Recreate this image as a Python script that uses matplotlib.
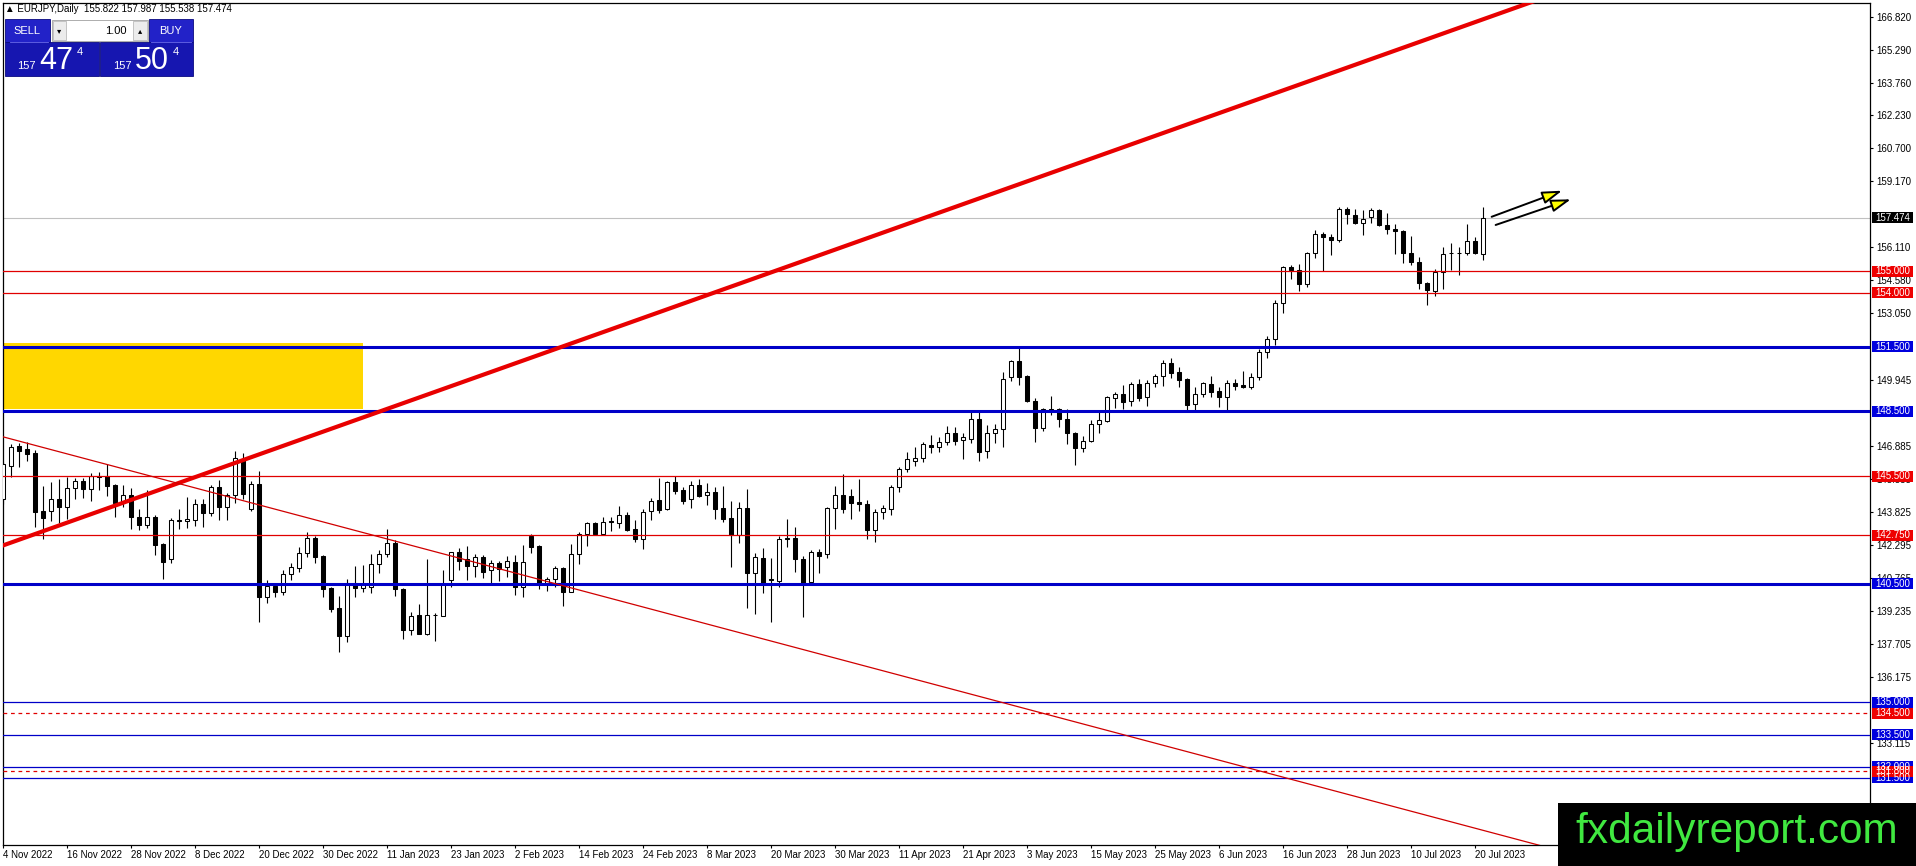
import numpy as np
import matplotlib
matplotlib.use('Agg')
import matplotlib.pyplot as plt
from matplotlib.patches import Rectangle

plt.rcParams['font.family'] = ['Liberation Sans', 'DejaVu Sans']

# ---------------- data ----------------
header_text = "\u25B2 EURJPY,Daily  155.822 157.987 155.538 157.474"

opens = [144.42, 145.96, 146.89, 146.74, 146.55, 143.86, 143.88, 144.42, 144.08, 144.94,
         145.25, 144.91, 145.50, 145.50, 145.10, 144.29, 144.63, 143.61, 143.24, 143.61,
         142.33, 141.66, 143.44, 143.40, 143.46, 144.22, 143.80, 145.01, 144.08, 144.63,
         146.30, 143.95, 145.11, 139.87, 140.40, 140.13, 140.94, 141.22, 141.91, 142.61,
         141.79, 140.29, 139.36, 138.09, 140.55, 140.29, 140.33, 141.40, 141.88, 142.38,
         140.24, 138.35, 139.05, 138.15, 139.05, 139.02, 140.67, 141.96, 141.63, 141.34,
         141.73, 141.14, 141.45, 141.26, 141.52, 140.33, 142.72, 142.25, 140.55, 140.70,
         141.23, 140.13, 141.87, 142.79, 143.30, 142.81, 143.41, 143.33, 143.67, 143.03,
         142.59, 143.86, 144.37, 143.95, 145.21, 144.83, 144.42, 145.07, 144.60, 144.74,
         144.00, 143.54, 142.76, 144.00, 140.98, 141.72, 140.70, 140.64, 142.61, 142.61,
         141.63, 140.60, 141.96, 141.86, 144.00, 144.60, 144.57, 144.29, 144.20, 142.99,
         143.81, 143.95, 144.97, 145.81, 146.21, 146.36, 146.94, 146.83, 147.06, 147.48,
         147.17, 147.20, 148.17, 146.66, 147.48, 147.66, 150.11, 150.83, 150.14, 148.98,
         147.74, 148.59, 148.59, 148.13, 147.51, 146.78, 147.14, 147.93, 148.07, 149.13,
         149.29, 148.99, 149.75, 149.15, 149.84, 150.12, 150.73, 150.32, 150.02, 148.82,
         149.29, 149.75, 149.44, 149.18, 149.84, 149.72, 149.64, 150.08, 151.27, 151.85,
         153.53, 155.20, 155.05, 154.40, 155.85, 156.73, 156.59, 156.45, 157.89, 157.60,
         157.24, 157.52, 157.85, 157.15, 156.98, 156.89, 155.85, 155.42, 154.46, 154.09,
         154.97, 155.85, 155.85, 155.84, 156.41, 155.822]
highs = [146.15, 146.97, 147.02, 147.08, 146.71, 145.04, 145.22, 145.35, 145.47, 145.42,
         145.42, 145.65, 145.69, 146.04, 145.11, 145.10, 144.96, 143.98, 144.83, 143.67,
         142.41, 143.57, 143.95, 144.54, 144.42, 144.42, 145.07, 145.30, 144.70, 146.66,
         146.55, 145.27, 145.75, 140.67, 140.55, 141.14, 141.48, 142.19, 142.89, 142.70,
         141.83, 140.35, 139.93, 140.70, 141.32, 141.37, 141.88, 142.07, 143.03, 142.53,
         140.29, 139.20, 139.56, 141.65, 139.13, 141.14, 141.99, 142.14, 142.25, 141.87,
         141.83, 141.60, 141.57, 141.79, 141.83, 142.30, 142.80, 142.30, 140.80, 141.32,
         141.28, 142.34, 142.90, 143.37, 143.37, 143.58, 143.58, 144.11, 143.83, 143.46,
         143.95, 144.46, 145.39, 145.25, 145.50, 145.01, 145.28, 145.35, 145.16, 145.01,
         145.05, 144.34, 144.31, 144.88, 141.91, 142.14, 141.68, 142.71, 143.53, 143.15,
         141.79, 142.06, 142.10, 144.05, 145.03, 145.59, 144.88, 145.36, 144.38, 143.95,
         144.15, 145.08, 145.93, 146.63, 146.83, 147.09, 147.40, 147.32, 147.82, 147.76,
         147.51, 148.48, 148.56, 147.87, 147.90, 150.34, 150.88, 151.50, 150.19, 149.10,
         148.64, 149.23, 148.64, 148.61, 147.56, 147.37, 148.10, 148.48, 149.21, 149.41,
         149.72, 149.88, 150.00, 149.95, 150.23, 150.88, 150.99, 150.56, 150.06, 149.64,
         149.88, 150.15, 149.64, 149.95, 150.00, 150.37, 150.26, 151.40, 152.00, 153.65,
         155.25, 155.31, 155.34, 155.90, 156.93, 156.83, 156.75, 157.99, 157.99, 157.88,
         157.83, 157.94, 157.91, 157.71, 157.21, 156.93, 156.64, 155.67, 154.50, 155.12,
         156.13, 156.31, 156.13, 157.20, 156.59, 157.987]
lows = [144.19, 145.47, 145.93, 146.20, 143.15, 142.56, 143.41, 143.30, 143.52, 144.42,
        144.48, 144.32, 144.85, 144.57, 143.61, 144.08, 143.03, 142.98, 143.09, 141.85,
        140.74, 141.48, 143.06, 143.10, 143.18, 143.15, 143.64, 143.46, 143.46, 144.26,
        144.45, 143.88, 138.74, 139.59, 139.90, 139.98, 140.67, 141.06, 141.73, 141.48,
        139.90, 139.20, 137.32, 137.81, 139.90, 140.13, 140.09, 141.01, 141.73, 139.95,
        137.94, 138.12, 138.15, 138.12, 137.86, 139.02, 140.36, 141.14, 140.67, 140.80,
        140.75, 140.55, 140.64, 140.83, 139.98, 139.87, 141.91, 140.24, 140.18, 140.36,
        139.48, 140.13, 141.42, 142.25, 142.75, 142.79, 142.96, 143.07, 142.96, 142.44,
        142.10, 143.46, 143.80, 143.92, 144.66, 144.20, 144.02, 144.51, 144.15, 143.52,
        143.37, 141.29, 142.38, 139.39, 139.10, 140.05, 138.74, 140.33, 142.22, 141.06,
        138.97, 140.52, 140.98, 141.71, 143.05, 143.77, 143.52, 143.89, 142.59, 142.45,
        143.52, 143.70, 144.77, 145.70, 145.96, 146.16, 146.58, 146.61, 146.94, 146.94,
        146.30, 147.05, 146.21, 146.36, 147.05, 146.83, 149.91, 149.72, 148.95, 147.06,
        147.59, 148.33, 147.79, 146.97, 146.01, 146.60, 147.09, 147.48, 147.99, 148.67,
        148.61, 148.76, 148.98, 148.76, 149.64, 149.67, 150.03, 149.64, 148.48, 148.48,
        149.15, 149.15, 148.72, 148.48, 149.50, 149.57, 149.54, 149.95, 151.00, 151.60,
        153.07, 154.63, 154.07, 154.26, 155.62, 155.03, 155.74, 156.36, 157.20, 157.20,
        156.67, 157.24, 157.09, 156.75, 155.79, 155.39, 155.28, 154.16, 153.42, 153.86,
        154.16, 155.05, 154.85, 155.77, 155.80, 155.538]
closes = [146.04, 146.86, 146.66, 146.52, 143.83, 143.55, 144.42, 144.08, 144.96, 145.25,
          144.88, 145.50, 145.45, 145.04, 144.26, 144.63, 143.60, 143.24, 143.61, 142.30,
          141.51, 143.44, 143.40, 143.49, 144.22, 143.78, 145.01, 144.08, 144.63, 146.34,
          144.66, 145.14, 139.87, 140.40, 140.13, 140.94, 141.28, 141.91, 142.61, 141.76,
          140.24, 139.33, 138.09, 140.55, 140.29, 140.49, 141.40, 141.88, 142.38, 140.24,
          138.35, 139.02, 138.15, 139.05, 139.07, 140.49, 141.96, 141.57, 141.34, 141.73,
          141.06, 141.45, 141.17, 141.57, 140.33, 141.52, 142.22, 140.52, 140.70, 141.23,
          140.13, 141.87, 142.79, 143.30, 142.81, 143.37, 143.35, 143.67, 142.99, 142.59,
          143.83, 144.34, 143.92, 145.21, 144.82, 144.36, 145.07, 144.59, 144.74, 143.98,
          143.52, 142.76, 144.00, 140.98, 141.73, 140.52, 140.67, 142.56, 142.56, 141.63,
          140.52, 141.96, 141.80, 144.00, 144.60, 143.95, 144.26, 144.20, 142.99, 143.83,
          144.00, 144.97, 145.81, 146.27, 146.36, 146.97, 146.83, 147.06, 147.48, 147.14,
          147.32, 148.17, 146.63, 147.48, 147.66, 149.98, 150.83, 150.11, 148.98, 147.74,
          148.61, 148.55, 148.13, 147.48, 146.78, 147.14, 147.90, 148.08, 149.15, 149.29,
          148.95, 149.77, 149.13, 149.84, 150.12, 150.73, 150.29, 149.97, 148.79, 149.29,
          149.80, 149.41, 149.18, 149.84, 149.69, 149.63, 150.08, 151.27, 151.85, 153.55,
          155.20, 155.05, 154.40, 155.85, 156.73, 156.58, 156.45, 157.89, 157.66, 157.24,
          157.43, 157.85, 157.13, 156.95, 156.86, 155.84, 155.42, 154.46, 154.12, 154.97,
          155.80, 155.84, 155.84, 156.41, 155.84, 157.474]

date_labels = ['4 Nov 2022', '16 Nov 2022', '28 Nov 2022', '8 Dec 2022', '20 Dec 2022',
               '30 Dec 2022', '11 Jan 2023', '23 Jan 2023', '2 Feb 2023', '14 Feb 2023',
               '24 Feb 2023', '8 Mar 2023', '20 Mar 2023', '30 Mar 2023', '11 Apr 2023',
               '21 Apr 2023', '3 May 2023', '15 May 2023', '25 May 2023', '6 Jun 2023',
               '16 Jun 2023', '28 Jun 2023', '10 Jul 2023', '20 Jul 2023']
bars_per_label = 8

price_ticks = [166.820, 165.290, 163.760, 162.230, 160.700, 159.170, 156.110,
               154.580, 153.050, 149.945, 146.885, 145.355, 143.825,
               142.295, 140.765, 139.235, 137.705, 136.175, 133.115]

red_levels = [155.0, 154.0, 145.5, 142.75]
blue_thick_levels = [151.5, 148.5, 140.5]
blue_thin_levels = [135.0, 133.5, 132.0, 131.5]
red_dashed_levels = [134.5, 131.8]
last_price = 157.474

# labels on the price scale (drawn in this order)
level_tags = [(157.474, 'black'), (155.0, 'red'), (154.0, 'red'), (151.5, 'blue'),
              (148.5, 'blue'), (145.5, 'red'), (142.75, 'red'), (140.5, 'blue'),
              (135.0, 'blue'), (134.5, 'red'), (133.5, 'blue'), (132.0, 'blue'),
              (131.5, 'blue'), (131.8, 'red')]

zone_low, zone_high = 148.60, 151.67
zone_end_bar = 45

up_trend = [(0, 142.28), (190, 167.35)]
down_trend = [(0, 147.32), (190, 128.57)]

arrow_1 = [(186.1, 157.53), (194.9, 158.74)]
arrow_2 = [(186.6, 157.15), (196.0, 158.34)]

# ---------------- figure ----------------
W, H = 1916, 866
fig = plt.figure(figsize=(W / 100, H / 100), dpi=100)
fig.patch.set_facecolor('white')

ax_left, ax_right, ax_top, ax_bot = 2.5, 1870, 3, 845
pos = [ax_left / W, (H - ax_bot) / H, (ax_right - ax_left) / W, (ax_bot - ax_top) / H]
ax = fig.add_axes(pos)
ax.set_facecolor('white')

XMIN, XMAX = -0.06, 233.4
YMIN, YMAX = 128.38, 167.45
ax.set_xlim(XMIN, XMAX)
ax.set_ylim(YMIN, YMAX)

RED = '#e00000'
BLUE = '#0000c8'

# yellow zone
ax.add_patch(Rectangle((XMIN - 1, zone_low), zone_end_bar - XMIN + 1, zone_high - zone_low,
                       facecolor='#ffd700', edgecolor='none', zorder=1))

# candles
o = np.array(opens); h = np.array(highs); l = np.array(lows); c = np.array(closes)
x = np.arange(len(o))
ax.vlines(x, l, h, color='black', linewidth=0.8, zorder=2)
bull = c >= o
body_bottom = np.minimum(o, c)
body_h = np.maximum(np.abs(c - o), 0.025)
ax.bar(x[bull], body_h[bull], bottom=body_bottom[bull], width=0.55,
       facecolor='white', edgecolor='black', linewidth=0.75, zorder=3)
ax.bar(x[~bull], body_h[~bull], bottom=body_bottom[~bull], width=0.55,
       facecolor='black', edgecolor='black', linewidth=0.75, zorder=3)

# horizontal levels
ax.axhline(last_price, color='#c0c0c0', linewidth=0.8, zorder=1.5)
for lv in red_levels:
    ax.axhline(lv, color=RED, linewidth=0.9, zorder=4)
for lv in blue_thick_levels:
    ax.axhline(lv, color=BLUE, linewidth=2.2, zorder=4)
for lv in blue_thin_levels:
    ax.axhline(lv, color=BLUE, linewidth=0.9, zorder=4)
for lv in red_dashed_levels:
    ax.axhline(lv, color=RED, linewidth=0.9, linestyle=(0, (3, 3)), zorder=4)

# trend lines (extended across the chart)
def extend(pts):
    (x0, y0), (x1, y1) = pts
    s = (y1 - y0) / (x1 - x0)
    xs = np.array([XMIN - 5, XMAX + 5])
    return xs, y0 + s * (xs - x0)

xs, ys = extend(up_trend)
ax.plot(xs, ys, color='#e80000', linewidth=3.0, zorder=5, solid_capstyle='butt')
xs, ys = extend(down_trend)
ax.plot(xs, ys, color='#d00000', linewidth=0.9, zorder=5)

# arrows
for a in (arrow_1, arrow_2):
    ax.annotate('', xy=a[1], xytext=a[0],
                arrowprops=dict(arrowstyle='-|>,head_length=1.2,head_width=0.38',
                                facecolor='#ffff00', edgecolor='black', linewidth=1.4,
                                shrinkA=0, shrinkB=0, mutation_scale=10),
                zorder=6)

# axes styling
for sp in ax.spines.values():
    sp.set_color('black'); sp.set_linewidth(0.9)
ax.set_xticks(np.arange(len(date_labels)) * bars_per_label)
ax.set_xticklabels(date_labels)
for t in ax.get_xticklabels():
    t.set_ha('left')
ax.tick_params(axis='x', direction='out', length=2.5, pad=1.2, labelsize=7, width=0.8)
ax.yaxis.tick_right()
ax.set_yticks(price_ticks)
ax.set_yticklabels([f'{v:.3f}' for v in price_ticks])
ax.tick_params(axis='y', direction='out', length=2, pad=2.2, labelsize=7, width=0.8)

# price-scale tags
rax = fig.add_axes([ax_right / W, pos[1], (W - ax_right) / W, pos[3]], zorder=5)
rax.set_xlim(0, W - ax_right)
rax.set_ylim(YMIN, YMAX)
rax.axis('off')
px_per_unit = (ax_bot - ax_top) / (YMAX - YMIN)
tag_h = 11 / px_per_unit
tag_colors = {'red': '#ee0000', 'blue': '#0000dd', 'black': '#000000'}
for lv, col in level_tags:
    rax.add_patch(Rectangle((2, lv - tag_h / 2), 41, tag_h, facecolor=tag_colors[col],
                            edgecolor='none', clip_on=False))
    rax.text(5.5, lv, f'{lv:.3f}', color='white', fontsize=7, va='center', ha='left',
             clip_on=False)

# overlay in pixel coordinates for the terminal decorations
ov = fig.add_axes([0, 0, 1, 1], zorder=10)
ov.set_xlim(0, W); ov.set_ylim(H, 0); ov.axis('off')

ov.text(5, 9, header_text, fontsize=7, va='center', ha='left', color='black')

# one-click trading panel
BTN = '#2222c8'
PRC = '#1616b0'
ov.add_patch(Rectangle((5, 19), 45, 23, facecolor=BTN, edgecolor='#0a0a80', linewidth=0.6))
ov.add_patch(Rectangle((149, 19), 44, 23, facecolor=BTN, edgecolor='#0a0a80', linewidth=0.6))
ov.add_patch(Rectangle((5, 42), 94, 34, facecolor=PRC, edgecolor='#0a0a80', linewidth=0.6))
ov.add_patch(Rectangle((100, 42), 93, 34, facecolor=PRC, edgecolor='#0a0a80', linewidth=0.6))
ov.add_patch(Rectangle((52, 20), 96, 21, facecolor='white', edgecolor='#a0a0a0', linewidth=0.6))
ov.add_patch(Rectangle((53, 21), 13, 19, facecolor='#ececec', edgecolor='#b0b0b0', linewidth=0.5))
ov.add_patch(Rectangle((133, 21), 14, 19, facecolor='#ececec', edgecolor='#b0b0b0', linewidth=0.5))
ov.plot([10, 48], [41.5, 41.5], color='#6a6af0', linewidth=0.6)
ov.plot([151, 191], [41.5, 41.5], color='#6a6af0', linewidth=0.6)
ov.text(59.5, 31, '\u25BE', fontsize=6, ha='center', va='center', color='black',
        family=['DejaVu Sans'])
ov.text(140, 31, '\u25B4', fontsize=6, ha='center', va='center', color='black',
        family=['DejaVu Sans'])
ov.text(127, 31, '1.00', fontsize=8, ha='right', va='center', color='black')
ov.text(27, 31, 'SELL', fontsize=8, ha='center', va='center', color='white')
ov.text(171, 31, 'BUY', fontsize=8, ha='center', va='center', color='white')
for x0, big in ((17, '47'), (113, '50')):
    ov.text(x0, 69, '157', fontsize=8, ha='left', va='baseline', color='white')
    ov.text(x0 + 22, 69, big, fontsize=22, ha='left', va='baseline', color='white')
    ov.text(x0 + 60, 55, '4', fontsize=8, ha='left', va='baseline', color='white')

# watermark
ov.add_patch(Rectangle((1558, 803), W - 1558 + 2, H - 803 + 2, facecolor='black',
                       edgecolor='none'))
ov.text(1575, 843, 'fxdailyreport.com', fontsize=30.5, color='#40e840', ha='left',
        va='baseline')

fig.savefig('out.png', dpi=100)
